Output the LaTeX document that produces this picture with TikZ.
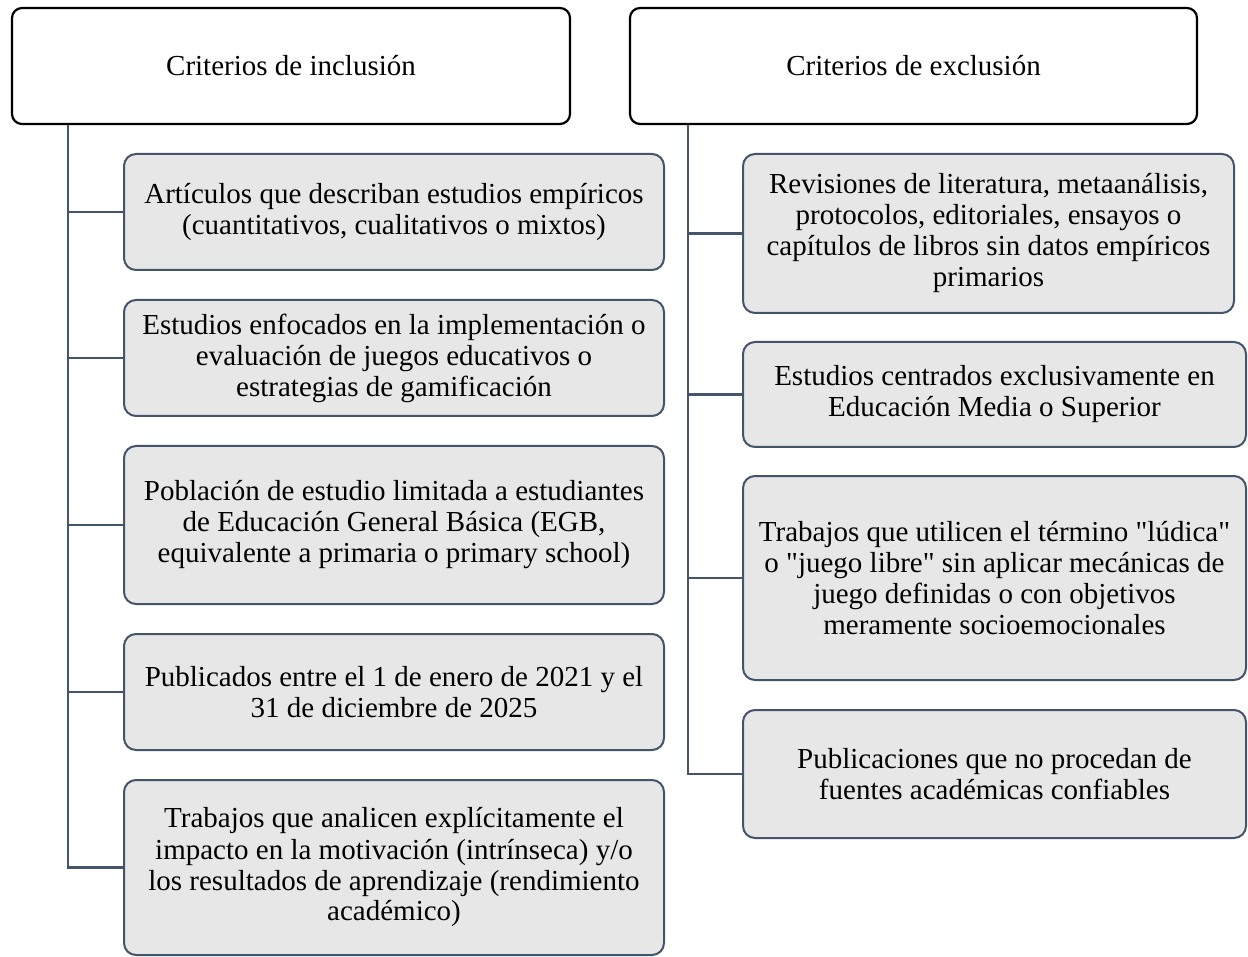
\documentclass[tikz,border=0pt]{standalone}
\usepackage{fontspec}
\setmainfont{Liberation Serif}
\definecolor{boxfill}{HTML}{E7E7E7}
\definecolor{boxline}{HTML}{44546A}
\newcommand\dq{\XeTeXglyph\XeTeXcharglyph"22\relax}
\begin{document}
\begin{tikzpicture}[x=1pt,y=-1pt,
  every node/.style={font=\fontsize{29}{31}\selectfont, align=center, inner sep=0pt},
  head/.style={draw=black, line width=2.2pt, rounded corners=10pt, fill=white, rectangle},
  item/.style={draw=boxline, line width=2pt, rounded corners=12pt, fill=boxfill, rectangle},
  conn/.style={draw=boxline, line width=2.5pt}]
\useasboundingbox (0,0) rectangle (1248,957);
\coordinate (tl) at (68,0);
\coordinate (tr) at (688,0);
% headers
\node[head, minimum width=558pt, minimum height=116pt] (hl) at (291,66) {Criterios de inclusión};
\node[head, minimum width=567pt, minimum height=116pt] (hr) at (913.5,66) {Criterios de exclusión};
% left items
\node[item, minimum width=540pt, minimum height=116pt] (l1) at (394,212) {Artículos que describan estudios empíricos\\(cuantitativos, cualitativos o mixtos)};
\node[item, minimum width=540pt, minimum height=116pt] (l2) at (394,358) {Estudios enfocados en la implementación o\\evaluación de juegos educativos o\\estrategias de gamificación};
\node[item, minimum width=540pt, minimum height=158pt] (l3) at (394,525) {Población de estudio limitada a estudiantes\\de Educación General Básica (EGB,\\equivalente a primaria o primary school)};
\node[item, minimum width=540pt, minimum height=116pt] (l4) at (394,692) {Publicados entre el 1 de enero de 2021 y el\\31 de diciembre de 2025};
\node[item, minimum width=540pt, minimum height=175pt] (l5) at (394,867.5) {Trabajos que analicen explícitamente el\\impacto en la motivación (intrínseca) y/o\\los resultados de aprendizaje (rendimiento\\académico)};
% right items
\node[item, minimum width=491pt, minimum height=159pt] (r1) at (988.5,233.5) {Revisiones de literatura, metaanálisis,\\protocolos, editoriales, ensayos o\\capítulos de libros sin datos empíricos\\primarios};
\node[item, minimum width=503pt, minimum height=105pt] (r2) at (994.5,394.5) {Estudios centrados exclusivamente en\\Educación Media o Superior};
\node[item, minimum width=503pt, minimum height=204pt] (r3) at (994.5,578) {Trabajos que utilicen el término \dq lúdica\dq\\o \dq juego libre\dq\ sin aplicar mecánicas de\\juego definidas o con objetivos\\meramente socioemocionales};
\node[item, minimum width=503pt, minimum height=128pt] (r4) at (994.5,774) {Publicaciones que no procedan de\\fuentes académicas confiables};
% connectors
\draw[conn] (hl.south -| tl) |- (l5.west);
\foreach \i in {1,2,3,4} { \draw[conn] (l\i.west) -- (l\i.west -| tl); }
\draw[conn] (hr.south -| tr) |- (r4.west);
\foreach \i in {1,2,3} { \draw[conn] (r\i.west) -- (r\i.west -| tr); }
\end{tikzpicture}
\end{document}
